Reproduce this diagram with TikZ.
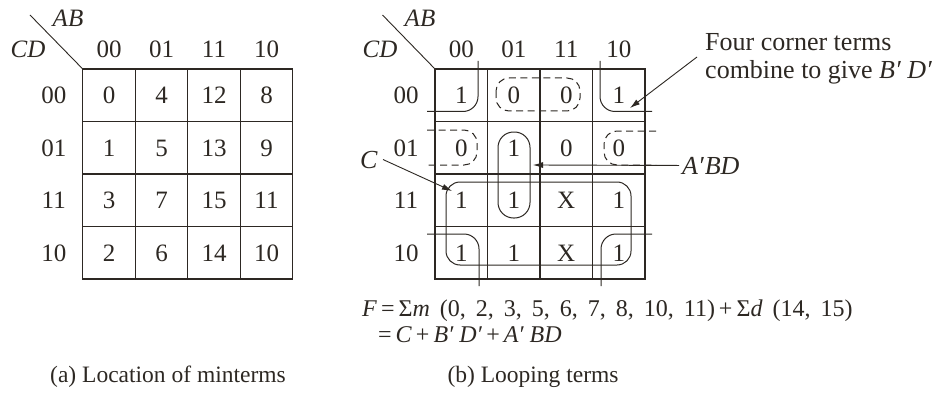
\documentclass[tikz,border=0pt]{standalone}
\usepackage{fontspec}
\setmainfont{Liberation Serif}
\usetikzlibrary{arrows.meta}
\definecolor{ink}{RGB}{45,40,35}
\begin{document}
\begin{tikzpicture}[x=1pt,y=-1pt,
  gridline/.style={line width=1.1pt, draw=ink},
  loopline/.style={line width=1pt, draw=ink},
  dloop/.style={loopline, dash pattern=on 7pt off 4.5pt},
  lbl/.style={font=\fontsize{24}{28}\selectfont, text=ink, inner sep=0pt, anchor=base},
  hdr/.style={lbl, font=\fontsize{25}{29}\selectfont},
  notetext/.style={lbl, font=\fontsize{26}{30}\selectfont},
  captext/.style={lbl, font=\fontsize{23.5}{28}\selectfont},
  arr/.style={line width=0.9pt, draw=ink, -{Latex[length=10pt,width=6pt]}},
]
\path[fill=white,use as bounding box] (0,0) rectangle (952,393);

% ---------- grids, headers ----------
\foreach \ox/\m in {82.75/l, 435/r} {
  \draw[gridline] (\ox,69) rectangle ++(210,210);
  \foreach \i in {1,2,3} {
    \draw[gridline] (\ox+\i*52.5,69) -- ++(0,210);
    \draw[gridline] (\ox,69+\i*52.5) -- ++(210,0);
  }
  \foreach \h [count=\i from 0] in {00,01,11,10} {
    \node[hdr, name=\m col\i] at (\ox+26.25+\i*52.5, 58) {\h};
    \node[hdr, name=\m row\i] at (\ox-29, 69+26.25+\i*52.5+8.5) {\h};
  }
}

% diagonals and variable labels
\coordinate (ldiag) at (30,15);
\coordinate (lcorner) at (82.75,69);
\draw[gridline, line width=0.9pt] (ldiag) -- (lcorner);
\coordinate (rdiag) at (382.5,15);
\coordinate (rcorner) at (435,69);
\draw[gridline, line width=0.9pt] (rdiag) -- (rcorner);
\node[hdr] (lab) at (68,27) {\textit{AB}};
\node[hdr] (lcd) at (28,58) {\textit{CD}};
\node[hdr] (rab) at (420,27) {\textit{AB}};
\node[hdr] (rcd) at (380,58) {\textit{CD}};

% ---------- left map: minterm numbers ----------
\foreach \row [count=\r from 0] in {{0,4,12,8},{1,5,13,9},{3,7,15,11},{2,6,14,10}} {
  \foreach \v [count=\c from 0] in \row {
    \node[hdr, name=lc\r\c] at (82.75+26.25+\c*52.5, 69+26.25+\r*52.5+8.5) {\v};
  }
}

% ---------- right map: entries ----------
\foreach \row [count=\r from 0] in {{1,0,0,1},{0,1,0,0},{1,1,X,1},{1,1,X,1}} {
  \foreach \v [count=\c from 0] in \row {
    \node[hdr, name=rc\r\c] at (435+26.25+\c*52.5, 69+26.25+\r*52.5+8.5) {\v};
  }
}

% ---------- loops ----------
% four corners (B'D')
\draw[loopline, rounded corners=15] (478,61) -- (478,111.5) -- (427,111.5);
\draw[loopline, rounded corners=15] (600,61) -- (600,111.5) -- (652,111.5);
\draw[loopline, rounded corners=15] (427,234) -- (479,234) -- (479,286);
\draw[loopline, rounded corners=15] (652,234) -- (601,234) -- (601,286);
% C
\draw[loopline, rounded corners=14] (446,182) rectangle (631,265);
% A'BD
\draw[loopline, rounded corners=15.5] (498,132) rectangle (530,218);
% dashed zero loops
\draw[dloop, rounded corners=13] (496,78) rectangle (580,111);
\draw[dloop, rounded corners=13] (427,130) -- (477,130) -- (477,165) -- (427,165);
\draw[dloop, rounded corners=13] (656,131) -- (604,131) -- (604,165) -- (656,165);

% ---------- annotations ----------
\node[notetext] (clab) at (369,168) {\textit{C}};
\coordinate (ctip) at (452,191);
\draw[arr] ([xshift=5pt]clab.east) -- (ctip);

\node[notetext, anchor=base west] (abd) at (682,174) {\textit{A′\kern1pt BD}};
\coordinate (abdtip) at (533,165);
\draw[arr] ([xshift=-3pt]abd.west) -- (abdtip);

\node[notetext, anchor=base west] (four1) at (705,51) {Four corner terms};
\node[notetext, anchor=base west] (four2) at (705,79) {combine to give \textit{B′ D′}};
\coordinate (fcs) at (697,57);
\coordinate (fct) at (630,108);
\draw[arr] (fcs) -- (fct);

% ---------- formula ----------
\node[lbl, anchor=base west] (f1) at (362,316)
  {\spaceskip=10pt\textit{F}\,=\,Σ\textit{m} (0, 2, 3, 5, 6, 7, 8, 10, 11)\,+\,Σ\textit{d} (14, 15)};
\node[lbl, anchor=base west] (f2) at (378,342)
  {=\,\textit{C}\,+\,\textit{B′ D′}\,+\,\textit{A′ BD}};

% ---------- captions ----------
\node[captext] (capa) at (168,382) {(a) Location of minterms};
\node[captext] (capb) at (533,382) {(b) Looping terms};
\end{tikzpicture}
\end{document}
